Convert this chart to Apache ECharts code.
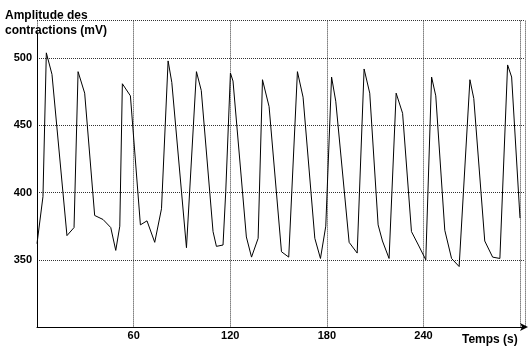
<!DOCTYPE html>
<html>
<head>
<meta charset="utf-8">
<script src="https://cdn.jsdelivr.net/npm/echarts@6/dist/echarts.min.js"></script>
<style>html,body{margin:0;padding:0;background:#fff}#c{width:532px;height:352px}</style>
</head>
<body>
<div id="c"></div>
<script>
var times = [0,3.7,5.8,9.3,18.6,23,25.5,29.6,35.8,41,45.8,48.9,51.4,53,58,64.2,68.3,73.1,77.3,81.4,83.7,92.8,99,102,109.3,111.4,115.5,117.2,120.1,121.7,130,133.2,137.3,140,144.1,151.8,156.3,161.7,165.2,172.5,176,179.3,182.9,185.5,193.8,198.8,203.1,206.6,211.8,214.5,218.6,223,227,232.5,236.8,241.4,245,247.6,253.2,257.4,262.1,268.8,271.2,278,282.9,287.4,292.2,294.7,299.9];
var amplitudes = [362,397,504,488,368,374,490,474,383,380,374,357,375,481,472,376,379,363,388,498,482,359,490,476,371,360,361,401,489,483,367,352,366,484,464,356,352,490,471,366,351,375,486,468,363,355,492,474,376,364,351,474,459,371,361,350,486,472,372,351,345,484,470,364,352,351,495,486,381];
var xTicks = [60,120,180,240];
var yTicks = [350,400,450,500];
var yTitle = 'Amplitude des\ncontractions (mV)';
var xTitle = 'Temps (s)';

var data = times.map(function(t,i){return [t, amplitudes[i]];});
var FONT = '"Liberation Sans", Arial, sans-serif';
var chart = echarts.init(document.getElementById('c'));
chart.setOption({
  animation:false,
  backgroundColor:'#fff',
  title:[
    {text:yTitle,left:5,top:8,padding:0,textStyle:{fontFamily:FONT,fontSize:12,fontWeight:'bold',color:'#000',lineHeight:15}},
    {text:xTitle,left:462,top:334,padding:0,textStyle:{fontFamily:FONT,fontSize:12,fontWeight:'bold',color:'#000'}}
  ],
  grid:{left:37,right:7,top:20.6,bottom:25,containLabel:false},
  xAxis:{
    type:'value',min:0,max:303,interval:60,
    axisLine:{show:true,lineStyle:{color:'#000',width:1},symbol:['none','arrow'],symbolSize:[6,8],symbolOffset:[0,3]},
    axisTick:{show:false},
    axisLabel:{fontFamily:FONT,fontSize:11,fontWeight:'bold',color:'#000',margin:3,
      formatter:function(v){return xTicks.indexOf(v)>=0?String(v):'';}},
    splitLine:{show:true,lineStyle:{color:'#333',type:[1,1],width:1}}
  },
  yAxis:{
    type:'value',min:300,max:528,interval:50,
    axisLine:{show:false},
    axisTick:{show:false},
    axisLabel:{fontFamily:FONT,fontSize:11,fontWeight:'bold',color:'#000',margin:5,
      formatter:function(v){return yTicks.indexOf(v)>=0?String(v):'';}},
    splitLine:{show:true,lineStyle:{color:'#333',type:[1,1],width:1}}
  },
  series:[{
    type:'line',data:data,showSymbol:false,smooth:false,
    lineStyle:{color:'#000',width:1},
    markLine:{
      silent:true,symbol:['none','none'],label:{show:false},
      lineStyle:{color:'#000',width:1,type:'solid'},
      data:[[{coord:[0,300]},{coord:[0,519]}]]
    }
  }]
});
</script>
</body>
</html>
